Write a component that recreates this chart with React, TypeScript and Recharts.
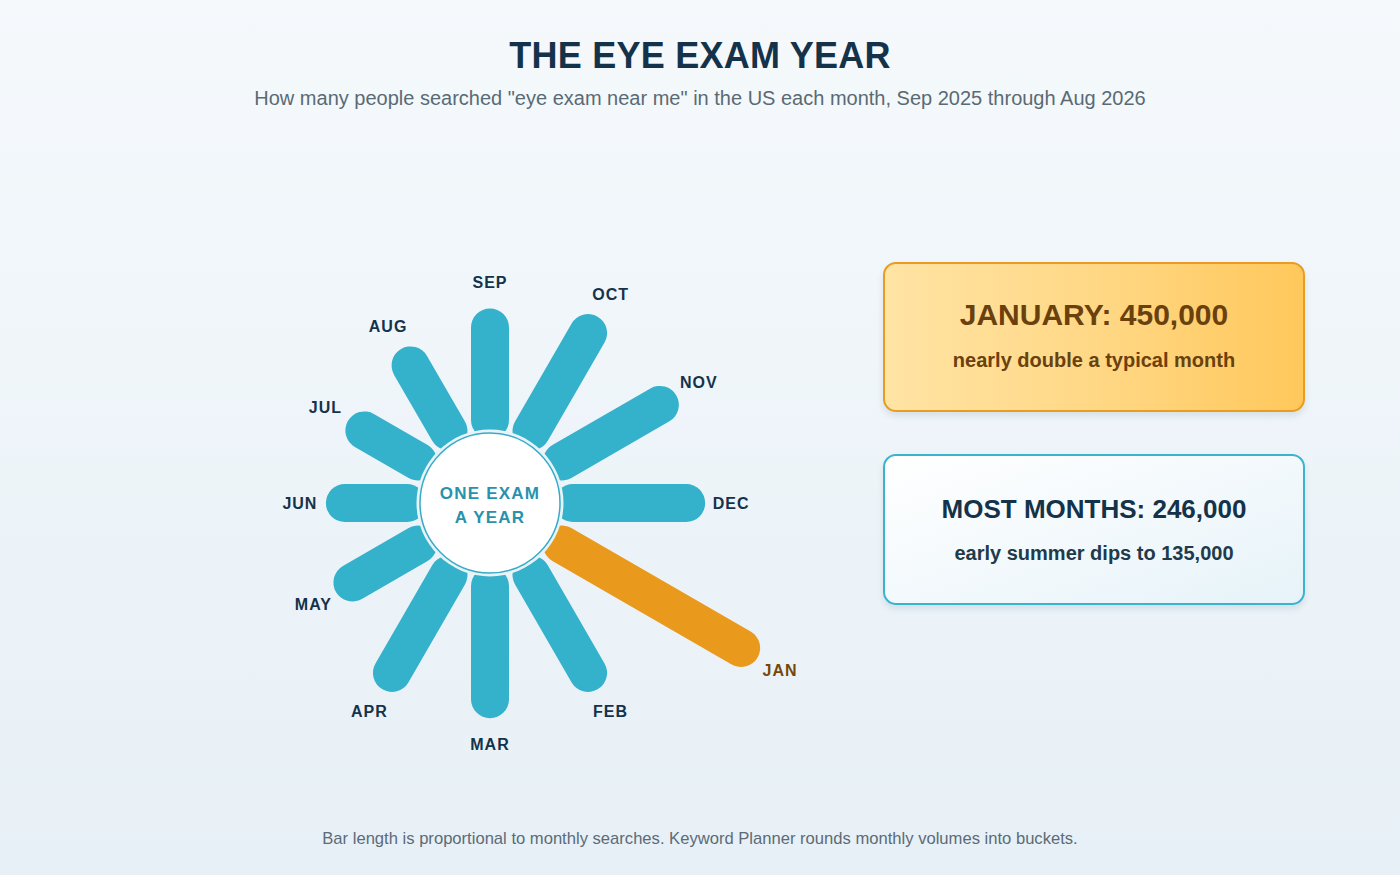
import { RadarChart, Radar, PolarAngleAxis, PolarRadiusAxis } from 'recharts';

// Monthly searches for "eye exam near me" (US), Sep 2025 - Aug 2026
const MONTHS = ['SEP', 'OCT', 'NOV', 'DEC', 'JAN', 'FEB', 'MAR', 'APR', 'MAY', 'JUN', 'JUL', 'AUG'];
const SEARCHES = [201000, 246000, 246000, 246000, 450000, 246000, 246000, 246000, 165000, 135000, 135000, 165000];
const PEAK_MONTH = 'JAN';
const MAX_SEARCHES = 450000;

const data = MONTHS.map((month, i) => ({ month, searches: SEARCHES[i] }));

const TEAL = '#34b1cb';
const ORANGE = '#e99a1d';
const NAVY = '#14334a';
const BROWN = '#774709';
const FONT = '"Liberation Sans", Arial, Helvetica, sans-serif';

const HUB_R = 70;
const BAR_BASE = 83; // bars start under the hub, length added on top
const BAR_W = 38;
const LABEL_GAP = 45;

const polar = (cx: number, cy: number, r: number, angle: number) => {
  const rad = (-angle * Math.PI) / 180;
  return { x: cx + r * Math.cos(rad), y: cy + r * Math.sin(rad) };
};

// ===== Spokes: one rounded bar per month, length from the radius scale =====
function Spokes(props: any) {
  const { points } = props;
  if (!points || !points.length) return null;
  const { cx, cy } = points[0];
  return (
    <g>
      {points.map((p: any) => {
        const peak = p.payload.month === PEAK_MONTH;
        const a = polar(cx, cy, BAR_BASE, p.angle);
        const b = polar(cx, cy, BAR_BASE + p.radius, p.angle);
        return (
          <line
            key={`bar-${p.payload.month}`}
            x1={a.x}
            y1={a.y}
            x2={b.x}
            y2={b.y}
            stroke={peak ? ORANGE : TEAL}
            strokeWidth={BAR_W}
            strokeLinecap="round"
          />
        );
      })}
      <circle cx={cx} cy={cy} r={HUB_R + 3.5} fill="#e8f3f8" />
      <circle cx={cx} cy={cy} r={HUB_R} fill="#ffffff" stroke="#37abc8" strokeWidth={1.5} />
      <text
        x={cx}
        y={cy - 10}
        textAnchor="middle"
        dominantBaseline="central"
        fontFamily={FONT}
        fontSize={17}
        fontWeight={700}
        letterSpacing={1.2}
        fill="#2892ad"
      >
        ONE EXAM
      </text>
      <text
        x={cx}
        y={cy + 14}
        textAnchor="middle"
        dominantBaseline="central"
        fontFamily={FONT}
        fontSize={17}
        fontWeight={700}
        letterSpacing={1.2}
        fill="#2892ad"
      >
        A YEAR
      </text>
      {points.map((p: any) => {
        const peak = p.payload.month === PEAK_MONTH;
        const t = polar(cx, cy, BAR_BASE + p.radius + LABEL_GAP, p.angle);
        return (
          <text
            key={`lbl-${p.payload.month}`}
            x={t.x}
            y={t.y}
            textAnchor="middle"
            dominantBaseline="central"
            fontFamily={FONT}
            fontSize={16}
            fontWeight={700}
            letterSpacing={1}
            fill={peak ? BROWN : NAVY}
          >
            {p.payload.month}
          </text>
        );
      })}
    </g>
  );
}

const cardBase = {
  position: 'absolute' as const,
  left: 883,
  width: 422,
  height: 150,
  boxSizing: 'border-box' as const,
  borderRadius: 13,
  borderWidth: 2,
  borderStyle: 'solid',
  boxShadow: '0 4px 6px rgba(40, 80, 110, 0.12)',
};

export default function App() {
  return (
    <div
      style={{
        position: 'absolute',
        left: 0,
        top: 0,
        width: 1400,
        height: 875,
        overflow: 'hidden',
        background: 'linear-gradient(180deg, #f5f9fc 0%, #e7f0f6 100%)',
        fontFamily: FONT,
      }}
    >
      {/* Title */}
      <div
        style={{
          position: 'absolute',
          top: 38,
          left: 0,
          width: 1400,
          textAlign: 'center',
          fontSize: 36,
          lineHeight: '36px',
          fontWeight: 700,
          letterSpacing: 0.25,
          color: NAVY,
        }}
      >
        THE EYE EXAM YEAR
      </div>
      <div
        style={{
          position: 'absolute',
          top: 88,
          left: 0,
          width: 1400,
          textAlign: 'center',
          fontSize: 20,
          lineHeight: '20px',
          color: '#5a6a75',
        }}
      >
        How many people searched "eye exam near me" in the US each month, Sep 2025 through Aug 2026
      </div>

      {/* Radial chart */}
      <div style={{ position: 'absolute', left: 140, top: 153 }}>
        <RadarChart
          width={700}
          height={700}
          data={data}
          outerRadius={207}
          margin={{ top: 0, right: 0, bottom: 0, left: 0 }}
        >
          <PolarAngleAxis dataKey="month" tick={false} axisLine={false} tickLine={false} />
          <PolarRadiusAxis domain={[0, MAX_SEARCHES]} tick={false} axisLine={false} tickLine={false} />
          <Radar
            dataKey="searches"
            shape={Spokes}
            dot={false}
            isAnimationActive={false}
          />
        </RadarChart>
      </div>

      {/* Callout cards */}
      <div
        style={{
          ...cardBase,
          top: 262,
          borderColor: '#e99b22',
          background: 'linear-gradient(90deg, #ffe4a4 0%, #ffd886 50%, #ffc85b 100%)',
        }}
      >
        <div
          style={{
            position: 'absolute',
            top: 36,
            left: 0,
            width: '100%',
            textAlign: 'center',
            fontSize: 30,
            lineHeight: '30px',
            fontWeight: 700,
            color: '#6a410d',
          }}
        >
          JANUARY: 450,000
        </div>
        <div
          style={{
            position: 'absolute',
            top: 86,
            left: 0,
            width: '100%',
            textAlign: 'center',
            fontSize: 20,
            lineHeight: '20px',
            fontWeight: 700,
            color: '#6a410d',
          }}
        >
          nearly double a typical month
        </div>
      </div>

      <div
        style={{
          ...cardBase,
          top: 454,
          height: 151,
          borderColor: '#3ab3ce',
          background: 'linear-gradient(160deg, #ffffff 0%, #f3f9fc 50%, #e6f3f9 100%)',
        }}
      >
        <div
          style={{
            position: 'absolute',
            top: 40,
            left: 0,
            width: '100%',
            textAlign: 'center',
            fontSize: 26,
            lineHeight: '26px',
            fontWeight: 700,
            color: NAVY,
          }}
        >
          MOST MONTHS: 246,000
        </div>
        <div
          style={{
            position: 'absolute',
            top: 87,
            left: 0,
            width: '100%',
            textAlign: 'center',
            fontSize: 20,
            lineHeight: '20px',
            fontWeight: 700,
            color: '#213a4b',
          }}
        >
          early summer dips to 135,000
        </div>
      </div>

      {/* Footnote */}
      <div
        style={{
          position: 'absolute',
          top: 830,
          left: 0,
          width: 1400,
          textAlign: 'center',
          fontSize: 16.6,
          lineHeight: '17px',
          color: '#5c6b76',
        }}
      >
        Bar length is proportional to monthly searches. Keyword Planner rounds monthly volumes into buckets.
      </div>
    </div>
  );
}
